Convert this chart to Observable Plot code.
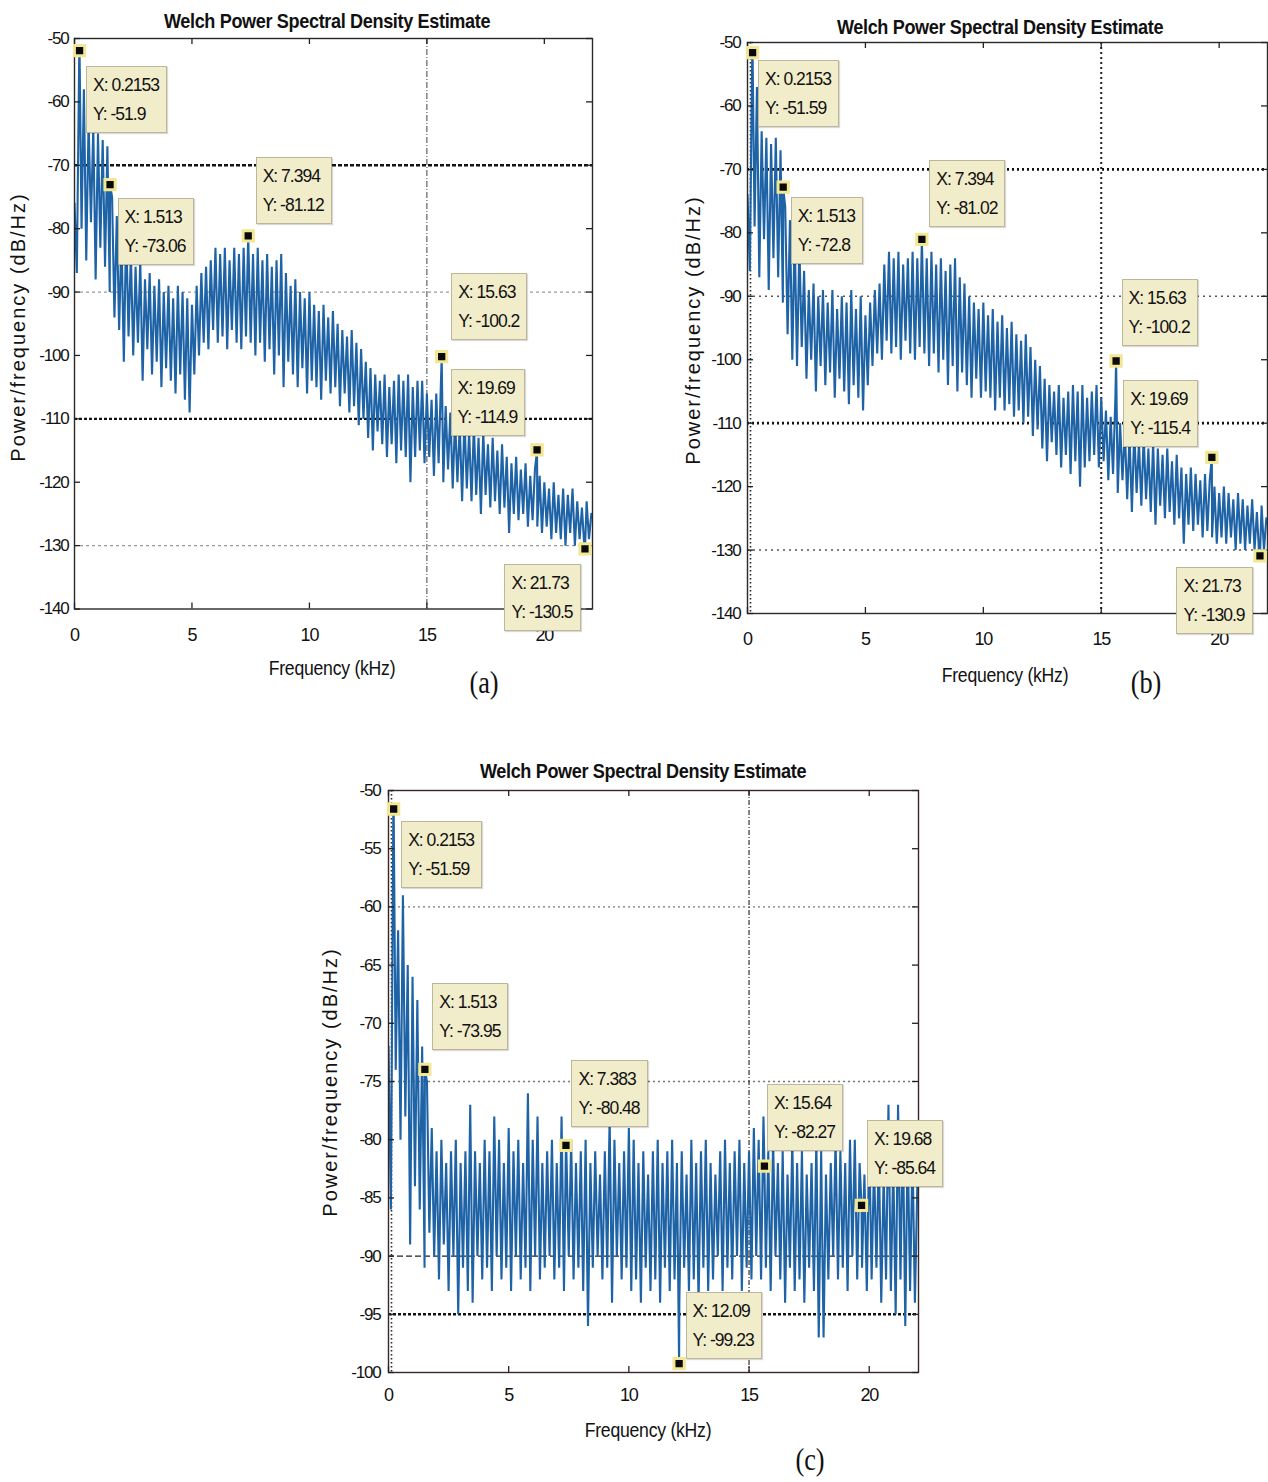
<!DOCTYPE html>
<html><head><meta charset="utf-8">
<script src="https://cdn.jsdelivr.net/npm/d3@7"></script>
<script src="https://cdn.jsdelivr.net/npm/@observablehq/plot@0.6"></script>
<style>
body{margin:0;background:#fff;}
#root{position:relative;width:1268px;height:1482px;overflow:hidden;background:#fff;font-family:"Liberation Sans",Arial,sans-serif;color:#111;}
.abs{position:absolute;white-space:nowrap;}
.title{font-weight:bold;font-size:21px;letter-spacing:-0.4px;transform:translate(-50%,-50%) scaleX(0.86);}
.xlab{font-size:21px;letter-spacing:-0.3px;transform:translate(-50%,-50%) scaleX(0.84);}
.ylab{font-size:20px;letter-spacing:2px;transform:translate(-50%,-50%) rotate(-90deg);}
.plab{font-family:"Liberation Serif","DejaVu Serif",serif;font-size:31px;transform:translate(-50%,-50%) scaleX(0.85);}
.tip{background:#f1ecca;border:1px solid #bdb79a;box-shadow:1px 1px 1px rgba(0,0,0,0.15);font-size:17.5px;letter-spacing:-1px;line-height:29px;padding:4px 7px 3px 6px;}
.plot{position:absolute;}
</style></head><body><div id="root"></div>
<script>
// ---------- data ----------
const binStep = 0.2;      // kHz between successive peak bins (troughs sit half a bin later)
const freqMax = 22.05;    // Nyquist, kHz
const xTicks = [0, 5, 10, 15, 20];
const yTicksAB = [-50, -60, -70, -80, -90, -100, -110, -120, -130, -140];
const yTicksC = [-50, -55, -60, -65, -70, -75, -80, -85, -90, -95, -100];

// Panel (a)
const peaksA = [-76,-53,-58,-63,-64,-65,-66,-67,-75,-78,-81,-80,-84,-86,-85,-88,-87,-89,-88,-90,-89,-91,-89,-90,-91,-92,-89,-87,-86,-85,-83,-84,-83,-85,-83,-84,-83,-82,-84,-83,-85,-84,-86,-85,-84,-87,-89,-88,-90,-91,-90,-92,-93,-92,-94,-93,-95,-96,-97,-96,-98,-99,-101,-102,-103,-104,-103,-105,-104,-103,-104,-103,-105,-104,-104,-106,-107,-106,-104,-108,-109,-110,-111,-110,-112,-111,-113,-112,-114,-113,-115,-114,-116,-117,-116,-118,-117,-119,-118,-119,-120,-121,-120,-122,-121,-122,-121,-123,-124,-123,-125];
const troughsA = [-87,-80,-85,-79,-88,-83,-86,-90,-94,-96,-101,-97,-100,-98,-104,-99,-103,-101,-105,-102,-104,-106,-103,-107,-109,-103,-100,-98,-99,-96,-98,-97,-99,-96,-98,-99,-97,-98,-100,-98,-101,-99,-103,-100,-105,-101,-103,-105,-102,-106,-104,-105,-107,-104,-106,-105,-108,-106,-109,-108,-111,-110,-113,-115,-112,-114,-116,-114,-117,-115,-116,-120,-116,-115,-117,-116,-119,-117,-120,-118,-121,-120,-123,-121,-123,-122,-125,-122,-124,-123,-125,-124,-128,-125,-126,-125,-127,-126,-127,-128,-127,-129,-128,-129,-130,-128,-130,-129,-130,-129];
const tipFreqA = [0.2153, 1.513, 7.394, 15.63, 19.69, 21.73];
const tipPowA = [-51.9, -73.06, -81.12, -100.2, -114.9, -130.5];

// Panel (b)
const peaksB = [-74,-52,-57,-64,-65,-66,-65,-67,-76,-78,-80,-82,-86,-89,-88,-90,-89,-91,-89,-92,-90,-91,-89,-92,-90,-93,-91,-89,-88,-85,-83,-84,-83,-85,-84,-83,-84,-82,-84,-83,-85,-84,-86,-85,-84,-87,-88,-90,-91,-92,-91,-93,-92,-94,-93,-95,-94,-96,-97,-96,-98,-100,-101,-103,-104,-105,-104,-106,-105,-104,-105,-104,-106,-105,-104,-106,-108,-109,-106,-110,-111,-112,-111,-113,-112,-114,-113,-114,-115,-114,-116,-115,-117,-118,-117,-118,-119,-118,-119,-120,-121,-120,-121,-122,-121,-122,-123,-122,-124,-123,-125];
const troughsB = [-86,-79,-87,-81,-89,-84,-87,-91,-96,-100,-101,-98,-103,-100,-105,-101,-104,-102,-106,-103,-105,-107,-104,-106,-108,-104,-101,-99,-100,-97,-99,-98,-100,-97,-99,-100,-98,-99,-101,-99,-102,-100,-104,-101,-105,-102,-104,-106,-103,-106,-105,-106,-108,-106,-108,-107,-109,-108,-110,-109,-112,-111,-114,-116,-113,-115,-117,-115,-118,-116,-120,-117,-116,-115,-117,-116,-119,-118,-121,-119,-122,-124,-121,-123,-122,-124,-126,-123,-125,-124,-126,-125,-129,-126,-127,-126,-128,-127,-128,-129,-128,-129,-128,-130,-129,-130,-129,-130,-131,-130];
const tipFreqB = [0.2153, 1.513, 7.394, 15.63, 19.69, 21.73];
const tipPowB = [-51.59, -72.8, -81.02, -100.2, -115.4, -130.9];

// Panel (c)
const peaksC = [-72,-52,-62,-59,-65,-66,-68,-72,-75,-79,-81,-80,-82,-81,-80,-82,-81,-77,-81,-82,-80,-81,-78,-80,-82,-79,-81,-80,-82,-76,-80,-78,-82,-81,-80,-82,-78,-81,-80,-82,-81,-80,-82,-81,-83,-81,-78,-80,-82,-81,-79,-80,-82,-81,-83,-81,-80,-82,-81,-80,-82,-81,-83,-80,-82,-81,-80,-82,-83,-81,-80,-82,-81,-80,-82,-81,-79,-80,-78,-81,-80,-82,-81,-83,-80,-82,-81,-83,-82,-80,-81,-83,-82,-80,-81,-82,-80,-80,-82,-83,-80,-82,-81,-83,-77,-82,-77,-79,-80,-81,-84];
const troughsC = [-86,-74,-80,-78,-89,-84,-86,-91,-88,-90,-92,-89,-93,-90,-95,-91,-93,-94,-90,-92,-91,-93,-90,-92,-91,-93,-90,-92,-91,-93,-90,-92,-91,-90,-92,-91,-93,-90,-92,-91,-93,-96,-91,-90,-92,-91,-94,-90,-92,-91,-93,-92,-94,-91,-93,-92,-94,-91,-93,-92,-94,-91,-93,-92,-94,-91,-93,-92,-90,-93,-91,-92,-90,-93,-91,-92,-90,-92,-91,-93,-90,-92,-94,-91,-93,-92,-94,-91,-93,-97,-97,-92,-90,-92,-91,-93,-90,-92,-91,-93,-92,-91,-94,-92,-93,-95,-92,-96,-93,-94];
const tipFreqC = [0.2153, 1.513, 7.383, 15.64, 19.68, 12.09];
const tipPowC = [-51.59, -73.95, -80.48, -82.27, -85.64, -99.23];

// ---------- helpers ----------
function buildSeries(peaks, troughs, tipF, tipP) {
  const pts = [];
  peaks.forEach((v, i) => pts.push({f: i * binStep, p: v}));
  troughs.forEach((v, i) => pts.push({f: i * binStep + binStep / 2, p: v}));
  tipF.forEach((f, i) => pts.push({f, p: tipP[i]}));
  return pts.sort((a, b) => a.f - b.f);
}
const root = document.getElementById("root");
function addText(cls, txt, x, y) {
  const d = document.createElement("div");
  d.className = "abs " + cls;
  d.style.left = x + "px"; d.style.top = y + "px";
  d.textContent = txt;
  root.appendChild(d);
}
const plainNum = d => String(d);

function panel(cfg) {
  const {left, top, width, height, ml, mr, mt, mb, yDomain, yTicks, peaks, troughs, tipF, tipP, grids, vgrid, leftDotted, boxOffsets, xPad, yPad, frameColor} = cfg;
  const innerW = width - ml - mr, innerH = height - mt - mb;
  const series = buildSeries(peaks, troughs, tipF, tipP);
  const tips = tipF.map((f, i) => ({f, p: tipP[i]}));
  const marks = [];
  grids.forEach(g => marks.push(Plot.ruleY([g.v], {y: d => d, stroke: g.stroke, strokeWidth: g.w, strokeDasharray: g.dash})));
  marks.push(Plot.ruleX([vgrid.v], {x: d => d, stroke: vgrid.stroke, strokeWidth: vgrid.w, strokeDasharray: vgrid.dash}));
  if (leftDotted) marks.push(Plot.ruleX([0], {x: d => d, dx: 3, stroke: "#222", strokeWidth: 1.6, strokeDasharray: "1.5,2.5"}));
  marks.push(Plot.line(series, {x: "f", y: "p", stroke: "#1f63a7", strokeWidth: 2.1, strokeLinejoin: "miter", clip: true}));
  marks.push(Plot.frame({stroke: frameColor, strokeWidth: 1.4}));
  marks.push(Plot.tickX(xTicks, {x: d => d, insetTop: innerH - 6, stroke: "#222", strokeWidth: 1.3}));
  marks.push(Plot.tickX(xTicks, {x: d => d, insetBottom: innerH - 6, stroke: "#222", strokeWidth: 1.3}));
  marks.push(Plot.tickY(yTicks, {y: d => d, insetLeft: innerW - 6, stroke: "#222", strokeWidth: 1.3}));
  marks.push(Plot.tickY(yTicks, {y: d => d, insetRight: innerW - 6, stroke: "#222", strokeWidth: 1.3}));
  marks.push(Plot.axisX(xTicks, {tickSize: 0, tickPadding: xPad, fontSize: 18, fill: "#111", tickFormat: plainNum}));
  marks.push(Plot.axisY(yTicks, {tickSize: 0, tickPadding: yPad, fontSize: 17, fill: "#111", tickFormat: plainNum}));
  marks.push(Plot.dot(tips, {x: "f", y: "p", symbol: "square", r: 5.8, fill: "#0a0a0a", stroke: "#f2e794", strokeWidth: 3}));
  const chart = Plot.plot({
    width, height, marginLeft: ml, marginRight: mr, marginTop: mt, marginBottom: mb,
    x: {domain: [0, freqMax], label: null},
    y: {domain: yDomain, label: null},
    style: {fontFamily: '"Liberation Sans", Arial, sans-serif', letterSpacing: "-1.2px", background: "transparent", overflow: "visible"},
    marks
  });
  chart.classList.add("plot");
  chart.style.left = left + "px"; chart.style.top = top + "px";
  root.appendChild(chart);
  const sx = chart.scale("x"), sy = chart.scale("y");
  tips.forEach((t, i) => {
    const px = left + sx.apply(t.f), py = top + sy.apply(t.p);
    const b = document.createElement("div");
    b.className = "abs tip";
    b.style.left = (px + boxOffsets[i][0]) + "px";
    b.style.top = (py + boxOffsets[i][1]) + "px";
    b.innerHTML = `X: ${t.f}<br>Y: ${t.p}`;
    root.appendChild(b);
  });
}

// Panel (a)
panel({left: 0, top: 0, width: 620, height: 660, ml: 74, mr: 28, mt: 38, mb: 51.5,
  yDomain: [-140, -50], yTicks: yTicksAB, peaks: peaksA, troughs: troughsA, tipF: tipFreqA, tipP: tipPowA,
  grids: [{v: -70, stroke: "#111", w: 2.6, dash: "4,2"}, {v: -110, stroke: "#111", w: 2.4, dash: "3,2"},
          {v: -90, stroke: "#999", w: 1.2, dash: "3,3"}, {v: -130, stroke: "#999", w: 1.2, dash: "3,3"}],
  vgrid: {v: 15, stroke: "#444", w: 1, dash: "6,2,1,2"}, leftDotted: false, frameColor: "#2a2a2a",
  xPad: 19, yPad: 6,
  boxOffsets: [[7, 16], [8, 14], [8, -78], [10, -83], [-86, -80], [-80, 16]]});

// Panel (b)
panel({left: 640, top: 0, width: 628, height: 670, ml: 107, mr: 1, mt: 42, mb: 57,
  yDomain: [-140, -50], yTicks: yTicksAB, peaks: peaksB, troughs: troughsB, tipF: tipFreqB, tipP: tipPowB,
  grids: [{v: -70, stroke: "#111", w: 2.6, dash: "2,3"}, {v: -110, stroke: "#111", w: 2.6, dash: "2,3"},
          {v: -90, stroke: "#555", w: 1.4, dash: "2,4"}, {v: -130, stroke: "#555", w: 1.4, dash: "2,4"}],
  vgrid: {v: 15, stroke: "#222", w: 2, dash: "2,3"}, leftDotted: true, frameColor: "#2a2a2a",
  xPad: 19, yPad: 7,
  boxOffsets: [[6, 8], [8, 10], [8, -79], [6, -81], [-88, -77], [-83, 12]]});

// Panel (c)
panel({left: 300, top: 760, width: 640, height: 680, ml: 88, mr: 22, mt: 30, mb: 68,
  yDomain: [-100, -50], yTicks: yTicksC, peaks: peaksC, troughs: troughsC, tipF: tipFreqC, tipP: tipPowC,
  grids: [{v: -60, stroke: "#777", w: 1.3, dash: "2,3"}, {v: -75, stroke: "#777", w: 1.3, dash: "2,3"},
          {v: -90, stroke: "#222", w: 1.3, dash: "6,3"}, {v: -95, stroke: "#111", w: 2.6, dash: "3,2"}],
  vgrid: {v: 15, stroke: "#333", w: 1.2, dash: "5,2,1,2"}, leftDotted: true, frameColor: "#3a2424",
  xPad: 16, yPad: 8,
  boxOffsets: [[8, 12], [8, -86], [6, -85], [3, -82], [6, -85], [7, -71]]});

// Titles and labels
const titleText = "Welch Power Spectral Density Estimate";
addText("title", titleText, 327, 21);
addText("title", titleText, 1000, 27);
addText("title", titleText, 643, 771);
addText("ylab", "Power/frequency (dB/Hz)", 18, 327);
addText("ylab", "Power/frequency (dB/Hz)", 693, 330);
addText("ylab", "Power/frequency (dB/Hz)", 330, 1082);
addText("xlab", "Frequency (kHz)", 332, 668);
addText("xlab", "Frequency (kHz)", 1005, 675);
addText("xlab", "Frequency (kHz)", 648, 1430);
addText("plab", "(a)", 484, 683);
addText("plab", "(b)", 1146, 683);
addText("plab", "(c)", 810, 1460);
</script></body></html>
